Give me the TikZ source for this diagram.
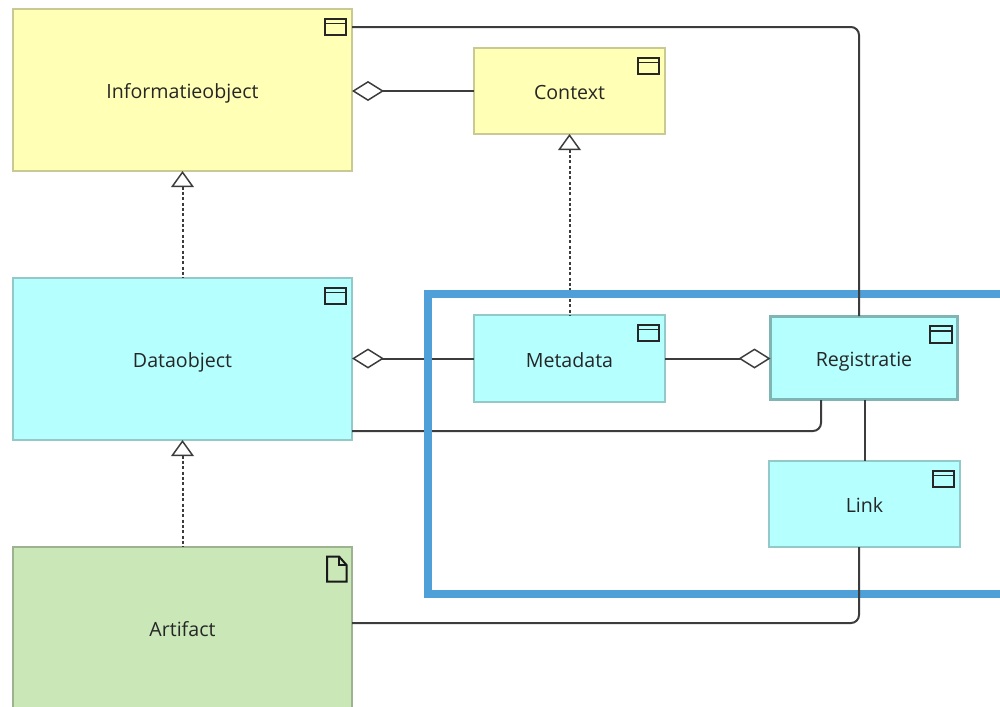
\documentclass[tikz,border=0pt]{standalone}
\usepackage{fontspec}
\setmainfont{Open Sans}
\usetikzlibrary{arrows.meta}
\definecolor{lineC}{HTML}{3C3C3C}
\definecolor{yelF}{HTML}{FFFFB5}
\definecolor{yelB}{HTML}{C9C993}
\definecolor{cyaF}{HTML}{B5FFFF}
\definecolor{cyaB}{HTML}{93C9C9}
\definecolor{regB}{HTML}{7FB5B5}
\definecolor{grnF}{HTML}{C9E7B7}
\definecolor{grnB}{HTML}{9DB38F}
\definecolor{bluC}{HTML}{4F9FD8}
\tikzset{
  sz/.style 2 args={minimum width=#1*0.75pt,minimum height=#2*0.75pt},
  elem/.style={rectangle,draw,line width=1.1pt,outer sep=0pt,inner sep=0pt,text=black!85,text height=13pt,text depth=0pt,font=\fontsize{14.7}{17}\selectfont},
  yelbox/.style={elem,fill=yelF,draw=yelB},
  cyabox/.style={elem,fill=cyaF,draw=cyaB},
  grnbox/.style={elem,fill=grnF,draw=grnB},
  regbox/.style={elem,fill=cyaF,draw=regB,line width=2.25pt},
  conn/.style={draw=lineC,line width=1.5pt,rounded corners=6pt},
  aggr/.style={conn,{Diamond[open,fill=white,length=24pt,width=15pt,line width=1.1pt]}-},
  real/.style={draw=lineC,line width=1.5pt,dash pattern=on 2.2pt off 1.8pt,{Triangle[open,fill=white,length=12pt,width=17pt,line width=1.1pt,sep=0pt]}-},
  winicon/.pic={
    \draw[black!85,line width=1.5pt] (-27.5,9.5) rectangle (-6,26);
    \draw[black!85,line width=1.2pt] (-27.5,14.5) -- (-6,14.5);
  },
  docicon/.pic={
    \draw[black!90,line width=1.5pt,line join=miter] (-25,9.5) -- (-13,9.5) -- (-5.5,18) -- (-5.5,34.5) -- (-25,34.5) -- cycle;
    \draw[black!90,line width=0.8pt] (-13,9.5) -- (-13,18) -- (-5.5,18);
  }
}
\begin{document}
\begin{tikzpicture}[x=0.75pt,y=-0.75pt]
\useasboundingbox (0,0) rectangle (1000,707);
\clip (0,0) rectangle (1000,707);
\fill[white] (0,0) rectangle (1000,707);
\node[yelbox,sz={339}{162}] (info) at (182.5,90) {Informatieobject};
\node[yelbox,sz={191}{86}] (ctx) at (569.5,91) {Context};
\node[cyabox,sz={339}{162}] (data) at (182.5,359) {Dataobject};
\node[cyabox,sz={191}{87}] (meta) at (569.5,358.5) {Metadata};
\node[regbox,sz={187}{83}] (reg) at (864,358) {Registratie};
\node[cyabox,sz={191}{86}] (link) at (864.5,504) {Link};
\node[grnbox,sz={339}{162}] (art) at (182.5,628) {Artifact};
\pic at (info.north east) {winicon};
\pic at (ctx.north east) {winicon};
\pic at (data.north east) {winicon};
\pic at (meta.north east) {winicon};
\pic at (reg.north east) {winicon};
\pic at (link.north east) {winicon};
\pic at (art.north east) {docicon};
% connectors under the frame
\draw[aggr] (ctx.west -| info.east) -- (ctx.west);
\draw[aggr] (meta.west -| data.east) -- (meta.west);
\draw[aggr] (reg.west |- meta.west) -- (meta.east);
\draw[real] (ctx.south) -- (meta.north);
\draw[real] (info.south) -- (data.north);
\draw[real] (data.south) -- (art.north);
\coordinate (a2) at (352,431);
\coordinate (r2) at (821,400);
\draw[conn] (a2) -| (r2);
\draw[conn] (link.north |- reg.south) -- (link.north);
% frame
\coordinate (frameTL) at (427.5,294);
\coordinate (frameBL) at (427.5,594);
\coordinate (frameTR) at (1010,294);
\coordinate (frameBR) at (1010,594);
\draw[bluC,line width=6pt,line join=miter] (frameTR) -- (frameTL) -- (frameBL) -- (frameBR);
% connectors over the frame
\coordinate (a1) at (352,27);
\coordinate (r1) at (859,316);
\draw[conn] (a1) -| (r1);
\coordinate (a3) at (352,623);
\coordinate (l3) at (859,547);
\draw[conn] (a3) -| (l3);
\end{tikzpicture}
\end{document}
